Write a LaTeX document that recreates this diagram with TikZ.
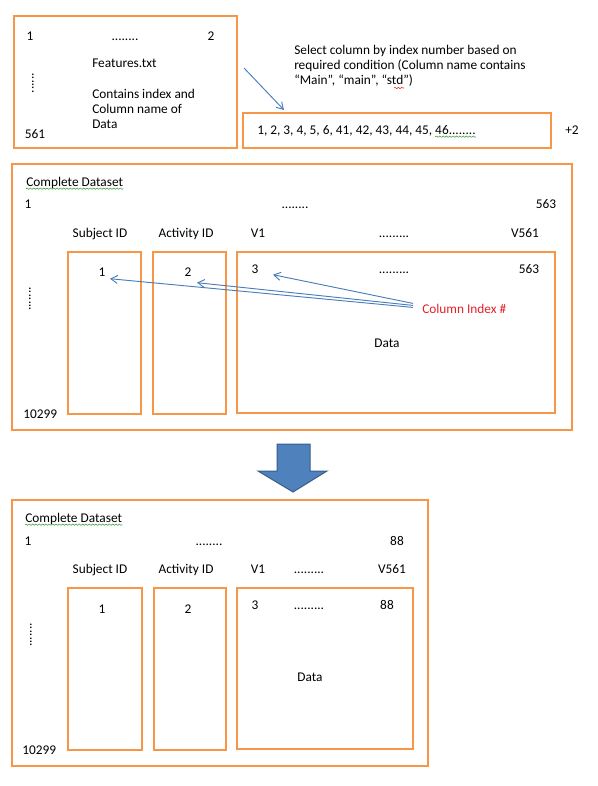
\documentclass[tikz,border=0pt]{standalone}
\usepackage{fontspec}
\setmainfont{Carlito}
\usetikzlibrary{arrows.meta, positioning, fit, decorations.pathmorphing}
\definecolor{boxorange}{HTML}{F79646}
\definecolor{linkblue}{HTML}{4A7EBB}
\definecolor{fillblue}{HTML}{4F81BD}
\definecolor{edgeblue}{HTML}{385D8A}
\definecolor{spellgreen}{HTML}{3A9A3A}
\definecolor{spellred}{HTML}{E02020}
\definecolor{indexred}{HTML}{E3202A}

\begin{document}
\begin{tikzpicture}[
    x=0.75pt, y=-0.75pt,
    every node/.style = {font=\fontsize{10}{11.4}\selectfont, inner sep=0pt},
    obox/.style = {draw=boxorange, line width=1.5pt, inner sep=0pt, fit={#1}},
    lbl/.style = {anchor=base},
    lblw/.style = {anchor=base west},
    vdots/.style = {rotate=90, anchor=center},
    link/.style = {-{Straight Barb[length=5pt, width=6pt]}, draw=linkblue, line width=0.7pt},
    squiggle/.style = {draw=#1, line width=0.4pt, decorate,
                       decoration={snake, amplitude=0.5pt, segment length=2.5pt}}
  ]
    \useasboundingbox (0,0) rectangle (597,786);

    % Features file
    \node[obox={(14,16) (237,148)}] (features) {};
    \node[lbl] (ftop1) at (30,40) {1};
    \node[lbl] (ftopdots) at (125,40) {........};
    \node[lbl] (ftop2) at (211,40) {2};
    \node[lblw] (fname) at (92,67) {Features.txt};
    \node[anchor=north west, align=left] (fdesc) at (92,89) {Contains index and\\Column name of\\Data};
    \node[vdots] (fdots) at (33,83) {......};
    \node[lbl] (flast) at (35,138) {561};

    % Selected indices
    \node[anchor=north west, align=left] (select) at (294,45)
        {Select column by index number based on\\required condition (Column name contains\\“Main”, “main”, “std”)};
    \node[obox={(243,113) (551,148)}] (indexrow) {};
    \node[lblw] (indices) at (257,134) {1, 2, 3, 4, 5, 6, 41, 42, 43, 44, 45, 46........};
    \node[lblw] (plustwo) at (565,134) {+2};
    \draw[link] ([shift={(6,-14)}]features.east) -- ([shift={(42,-2)}]indexrow.north west);

    % Complete dataset
    \node[obox={(12,164) (572,430)}] (fullbox) {};
    \node[lblw] (fullname) at (26,186) {Complete Dataset};
    \node[lbl] (fullc1) at (28,208) {1};
    \node[lbl] (fullcdots) at (295,208) {........};
    \node[lbl] (fullcn) at (546,208) {563};
    \node[lbl] (fullhsubj) at (100,237) {Subject ID};
    \node[lbl] (fullhact) at (186,237) {Activity ID};
    \node[lbl] (fullhv1) at (258,237) {V1};
    \node[lbl] (fullhdots) at (394,237) {.........};
    \node[lbl] (fullhvn) at (525,237) {V561};
    \node[obox={(68,252) (141,414)}] (fullsubj) {};
    \node[obox={(153,252) (226,414)}] (fullact) {};
    \node[obox={(237,252) (555,413)}] (fulldata) {};
    \node[lbl] (fulls1) at (102,276) {1};
    \node[lbl] (fulla2) at (188,276) {2};
    \node[lbl] (fulld3) at (255,273) {3};
    \node[lbl] (fullddots) at (394,273) {.........};
    \node[lbl] (fulldn) at (529,273) {563};
    \node[lbl] (fulldatalbl) at (387,347) {Data};
    \node[vdots] (fullrdots) at (30,299) {.......};
    \node[lblw] (fullrows) at (23,418) {10299};
    \node[lblw, text=indexred] (colidx) at (422,313) {Column Index \#};
    \draw[link] ([shift={(-9,-5)}]colidx.west) -- ([shift={(18,6)}]fulld3.center);
    \draw[link] ([shift={(-9,-3)}]colidx.west) -- ([shift={(9,11)}]fulla2.center);
    \draw[link] ([shift={(-9,-1)}]colidx.west) -- ([shift={(8,7)}]fulls1.center);

    % Down arrow
    \fill[fillblue, draw=edgeblue, line width=0.75pt]
        (277,444) -- (310,444) -- (310,471) -- (327,471) -- (293,492) -- (258,471) -- (277,471) -- cycle;

    % Reduced dataset
    \node[obox={(12,500) (428,766)}] (keptbox) {};
    \node[lblw] (keptname) at (25,522) {Complete Dataset};
    \node[lbl] (keptc1) at (28,545) {1};
    \node[lbl] (keptcdots) at (209,545) {........};
    \node[lbl] (keptcn) at (397,545) {88};
    \node[lbl] (kepthsubj) at (100,573) {Subject ID};
    \node[lbl] (kepthact) at (186,573) {Activity ID};
    \node[lbl] (kepthv1) at (258,573) {V1};
    \node[lbl] (kepthdots) at (309,573) {.........};
    \node[lbl] (kepthvn) at (392,573) {V561};
    \node[obox={(68,588) (142,750)}] (keptsubj) {};
    \node[obox={(154,588) (226,750)}] (keptact) {};
    \node[obox={(237,588) (413,749)}] (keptdata) {};
    \node[lbl] (kepts1) at (102,613) {1};
    \node[lbl] (kepta2) at (188,613) {2};
    \node[lbl] (keptd3) at (255,609) {3};
    \node[lbl] (keptddots) at (309,609) {.........};
    \node[lbl] (keptdn) at (387,609) {88};
    \node[lbl] (keptdatalbl) at (310,681) {Data};
    \node[vdots] (keptrdots) at (31,635) {.......};
    \node[lblw] (keptrows) at (22,754) {10299};

    % Spelling marks
    \draw[squiggle=spellgreen] ([yshift=-2pt]fullname.base west) -- ([yshift=-2pt]fullname.base east);
    \draw[squiggle=spellgreen] ([yshift=-2pt]keptname.base west) -- ([yshift=-2pt]keptname.base east);
    \draw[squiggle=spellgreen] ([yshift=-2pt]indices.base east) -- ++(-41,0);
    \draw[squiggle=spellred] (394,88) -- (404,88);

  \end{tikzpicture}
\end{document}
